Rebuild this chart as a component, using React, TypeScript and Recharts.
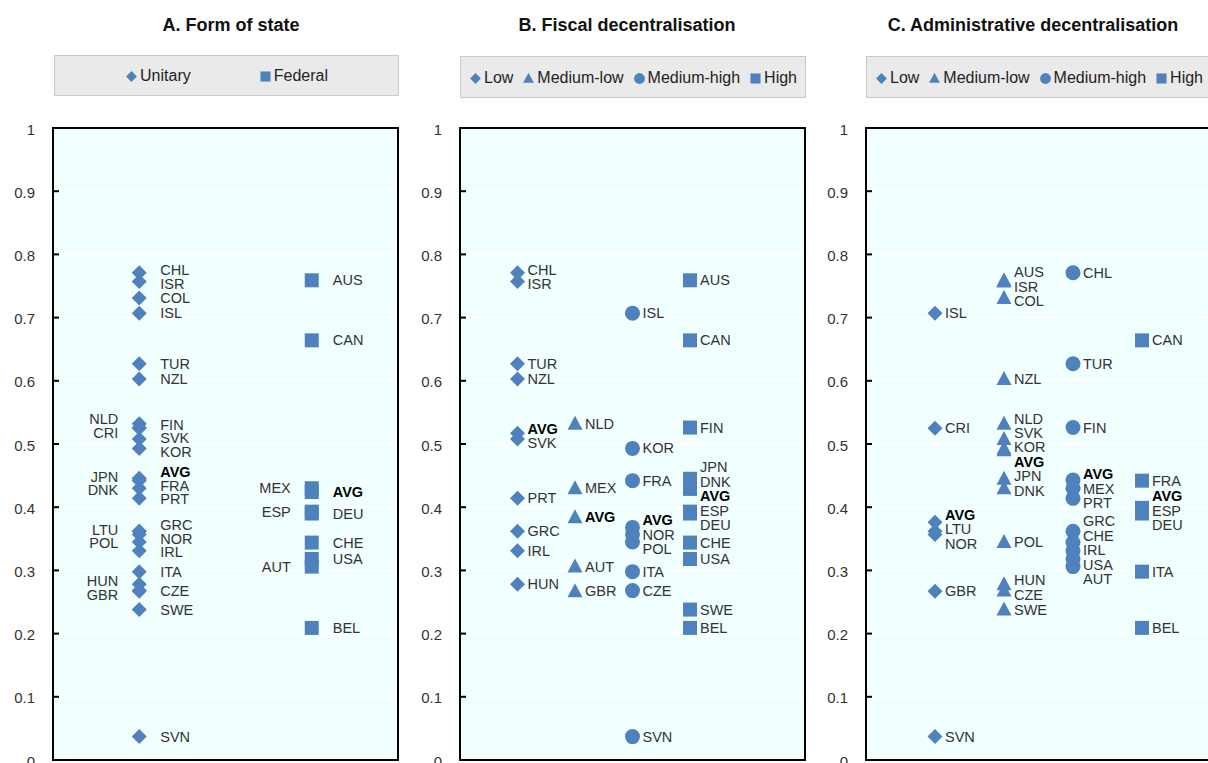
import { ScatterChart, Scatter, XAxis, YAxis, CartesianGrid, ReferenceArea } from "recharts";

// Index score per country (same value in every panel)
const countryCodes = [
  "CHL", "ISR", "AUS", "COL", "ISL", "CAN", "TUR", "NZL", "NLD", "FIN", "CRI", "SVK",
  "KOR", "JPN", "FRA", "MEX", "DNK", "PRT", "ESP", "DEU", "GRC", "LTU", "NOR", "POL",
  "CHE", "IRL", "USA", "AUT", "ITA", "HUN", "CZE", "GBR", "SWE", "BEL", "SVN",
];
const countryScores = [
  0.771, 0.757, 0.759, 0.731, 0.707, 0.664, 0.627, 0.603, 0.532, 0.526, 0.525, 0.508,
  0.493, 0.445, 0.442, 0.43, 0.43, 0.414, 0.393, 0.39, 0.362, 0.362, 0.357, 0.345,
  0.344, 0.331, 0.318, 0.306, 0.298, 0.278, 0.268, 0.267, 0.238, 0.209, 0.037,
];

const yTicks = [0, 0.1, 0.2, 0.3, 0.4, 0.5, 0.6, 0.7, 0.8, 0.9, 1];

// A. Form of state
const stateCategories = ["Unitary", "Federal"];
const unitaryMembers = [
  "CHL", "ISR", "COL", "ISL", "TUR", "NZL", "NLD", "FIN", "CRI", "SVK", "KOR", "JPN", "FRA",
  "DNK", "PRT", "GRC", "LTU", "NOR", "POL", "IRL", "ITA", "HUN", "CZE", "GBR", "SWE", "SVN",
];
const federalMembers = ["AUS", "CAN", "MEX", "ESP", "DEU", "CHE", "USA", "AUT", "BEL"];
const stateAverages = [0.446, 0.424];

// B. Fiscal decentralisation
const levelCategories = ["Low", "Medium-low", "Medium-high", "High"];
const fiscalLow = ["CHL", "ISR", "TUR", "NZL", "SVK", "PRT", "GRC", "IRL", "HUN"];
const fiscalMediumLow = ["NLD", "MEX", "AUT", "GBR"];
const fiscalMediumHigh = ["ISL", "KOR", "FRA", "NOR", "POL", "ITA", "CZE", "SVN"];
const fiscalHigh = ["AUS", "CAN", "FIN", "JPN", "DNK", "ESP", "DEU", "CHE", "USA", "SWE", "BEL"];
const fiscalAverages = [0.517, 0.384, 0.368, 0.429];

// C. Administrative decentralisation
const adminLow = ["ISL", "CRI", "LTU", "NOR", "GBR", "SVN"];
const adminMediumLow = [
  "AUS", "ISR", "COL", "NZL", "NLD", "SVK", "KOR", "JPN", "DNK", "POL", "HUN", "CZE", "SWE",
];
const adminMediumHigh = ["CHL", "TUR", "FIN", "MEX", "PRT", "GRC", "CHE", "IRL", "USA", "AUT"];
const adminHigh = ["CAN", "FRA", "ESP", "DEU", "ITA", "BEL"];
const adminAverages = [0.376, 0.49, 0.443, 0.399];

const BLUE = "#4F81BD";
const FONT = "'Liberation Sans', Arial, sans-serif";
const PLOT_H = 632;
const PLOT_W = 345;
const CHART_TOP = 110;
const MARGIN_TOP = 18;

type Kind = "diamond" | "square" | "circle" | "triangle";

type PanelConfig = {
  title: string;
  titleCenter: number;
  chartLeft: number;
  categories: string[];
  groups: string[][];
  averages: number[];
  kinds: Kind[];
  xDomain: [number, number];
  xOffset: number;
  labelGap: number;
  spacing: number;
  leftLabels: string[];
  legend: { left: number; top: number; width: number; height: number; gap: number };
};

const panels: PanelConfig[] = [
  {
    title: "A. Form of state",
    titleCenter: 231,
    chartLeft: 0,
    categories: stateCategories,
    groups: [unitaryMembers, federalMembers],
    averages: stateAverages,
    kinds: ["diamond", "square"],
    xDomain: [0, 2],
    xOffset: 0.5,
    labelGap: 21,
    spacing: 13.5,
    leftLabels: ["NLD", "CRI", "JPN", "DNK", "LTU", "POL", "HUN", "GBR", "MEX", "ESP", "AUT"],
    legend: { left: 54, top: 55, width: 345, height: 41, gap: 68 },
  },
  {
    title: "B. Fiscal decentralisation",
    titleCenter: 627,
    chartLeft: 407,
    categories: levelCategories,
    groups: [fiscalLow, fiscalMediumLow, fiscalMediumHigh, fiscalHigh],
    averages: fiscalAverages,
    kinds: ["diamond", "triangle", "circle", "square"],
    xDomain: [0, 6],
    xOffset: 1,
    labelGap: 10,
    spacing: 14.5,
    leftLabels: [],
    legend: { left: 460, top: 56, width: 346, height: 42, gap: 9 },
  },
  {
    title: "C. Administrative decentralisation",
    titleCenter: 1033,
    chartLeft: 813,
    categories: levelCategories,
    groups: [adminLow, adminMediumLow, adminMediumHigh, adminHigh],
    averages: adminAverages,
    kinds: ["diamond", "triangle", "circle", "square"],
    xDomain: [0, 5],
    xOffset: 1,
    labelGap: 10,
    spacing: 14.5,
    leftLabels: [],
    legend: { left: 866, top: 56, width: 346, height: 42, gap: 9 },
  },
];

type Point = {
  code: string;
  value: number;
  x: number;
  side: "left" | "right";
  py: number;
  ly: number;
};

// push overlapping labels apart, keeping each cluster centred on its markers
function spreadLabels(items: Point[], spacing: number) {
  for (let iter = 0; iter < 80; iter++) {
    items.sort((a, b) => a.ly - b.ly);
    let moved = false;
    for (let i = 1; i < items.length; i++) {
      const diff = items[i].ly - items[i - 1].ly;
      if (diff < spacing - 0.01) {
        const shift = (spacing - diff) / 2;
        items[i - 1].ly -= shift;
        items[i].ly += shift;
        moved = true;
      }
    }
    if (!moved) break;
  }
}

function buildGroups(panel: PanelConfig): Point[][] {
  return panel.groups.map((members, gi) => {
    const rows = members.map((code) => ({ code, value: countryScores[countryCodes.indexOf(code)] }));
    rows.push({ code: "AVG", value: panel.averages[gi] });
    const pts: Point[] = rows.map((r) => {
      const py = (1 - r.value) * PLOT_H;
      return {
        ...r,
        x: gi + panel.xOffset,
        side: panel.leftLabels.includes(r.code) ? "left" : "right",
        py,
        ly: py,
      };
    });
    spreadLabels(pts.filter((p) => p.side === "right"), panel.spacing);
    spreadLabels(pts.filter((p) => p.side === "left"), panel.spacing);
    return pts;
  });
}

function Marker({ kind, cx, cy, s = 1 }: { kind: Kind; cx: number; cy: number; s?: number }) {
  if (kind === "diamond") {
    const h = 7.5 * s;
    return <path d={`M${cx},${cy - h}L${cx + h},${cy}L${cx},${cy + h}L${cx - h},${cy}Z`} fill={BLUE} />;
  }
  if (kind === "square") {
    const h = 7 * s;
    return <rect x={cx - h} y={cy - h} width={2 * h} height={2 * h} fill={BLUE} />;
  }
  if (kind === "circle") {
    return <circle cx={cx} cy={cy} r={7.5 * s} fill={BLUE} />;
  }
  return (
    <path
      d={`M${cx},${cy - 8 * s}L${cx + 7.5 * s},${cy + 6 * s}L${cx - 7.5 * s},${cy + 6 * s}Z`}
      fill={BLUE}
    />
  );
}

function pointShape(kind: Kind, gap: number) {
  return (props: any) => {
    const { cx, cy, payload } = props;
    const p = payload as Point;
    const bold = p.code === "AVG";
    const right = p.side === "right";
    return (
      <g>
        <Marker kind={kind} cx={cx} cy={cy} />
        <text
          x={right ? cx + gap : cx - gap}
          y={cy + (p.ly - p.py)}
          textAnchor={right ? "start" : "end"}
          dominantBaseline="central"
          fontFamily={FONT}
          fontSize={14.5}
          fontWeight={bold ? 700 : 400}
          fill={bold ? "#000" : "#333"}
        >
          {p.code}
        </text>
      </g>
    );
  };
}

function YTick(props: any) {
  const { x, y, payload } = props;
  return (
    <g>
      <line x1={x - 1} x2={x + 6} y1={y} y2={y} stroke="#000" strokeWidth={2} />
      <text
        x={x - 18}
        y={y + 1}
        textAnchor="end"
        dominantBaseline="central"
        fontFamily={FONT}
        fontSize={15}
        fill="#333"
      >
        {String(payload.value)}
      </text>
    </g>
  );
}

function LegendBox({ panel }: { panel: PanelConfig }) {
  const { left, top, width, height, gap } = panel.legend;
  return (
    <div
      style={{
        position: "absolute",
        left,
        top,
        width,
        height,
        boxSizing: "border-box",
        background: "#EAEAEA",
        border: "1px solid #CBCBCB",
        display: "flex",
        alignItems: "center",
        justifyContent: "center",
        gap,
        fontFamily: FONT,
        fontSize: 16,
        color: "#222",
        whiteSpace: "nowrap",
        paddingTop: 1,
      }}
    >
      {panel.categories.map((c, i) => (
        <span key={c} style={{ display: "flex", alignItems: "center", gap: 2 }}>
          <svg width={13} height={14}>
            <Marker kind={panel.kinds[i]} cx={6.5} cy={7.5} s={0.72} />
          </svg>
          {c}
        </span>
      ))}
    </div>
  );
}

function Panel({ panel }: { panel: PanelConfig }) {
  const groups = buildGroups(panel);
  const chartW = 53 + PLOT_W + 12;
  const chartH = MARGIN_TOP + PLOT_H + 30;
  return (
    <>
      <div
        style={{
          position: "absolute",
          left: panel.titleCenter - 200,
          width: 400,
          top: 15,
          textAlign: "center",
          fontFamily: FONT,
          fontWeight: 700,
          fontSize: 18,
          color: "#111",
        }}
      >
        {panel.title}
      </div>
      <LegendBox panel={panel} />
      <div style={{ position: "absolute", left: panel.chartLeft, top: CHART_TOP }}>
        <ScatterChart width={chartW} height={chartH} margin={{ top: MARGIN_TOP, right: 12, bottom: 30, left: 8 }}>
          <CartesianGrid vertical={false} stroke="#FFFFFF" strokeWidth={2} fill="#F2FFFF" fillOpacity={1} />
          <XAxis type="number" dataKey="x" domain={panel.xDomain} hide />
          <YAxis
            type="number"
            dataKey="value"
            domain={[0, 1]}
            ticks={yTicks}
            interval={0}
            width={45}
            axisLine={false}
            tickLine={false}
            tickSize={0}
            tickMargin={0}
            tick={YTick}
          />
          <ReferenceArea
            x1={panel.xDomain[0]}
            x2={panel.xDomain[1]}
            y1={0}
            y2={1}
            fill="none"
            stroke="#000"
            strokeWidth={2}
          />
          {groups.map((pts, gi) => (
            <Scatter
              key={panel.categories[gi]}
              name={panel.categories[gi]}
              data={pts}
              fill={BLUE}
              isAnimationActive={false}
              shape={pointShape(panel.kinds[gi], panel.labelGap)}
            />
          ))}
        </ScatterChart>
      </div>
    </>
  );
}

export default function App() {
  return (
    <div
      style={{
        position: "absolute",
        left: 0,
        top: 0,
        width: 1208,
        height: 763,
        overflow: "hidden",
        background: "#fff",
      }}
    >
      {panels.map((p) => (
        <Panel key={p.title} panel={p} />
      ))}
    </div>
  );
}
